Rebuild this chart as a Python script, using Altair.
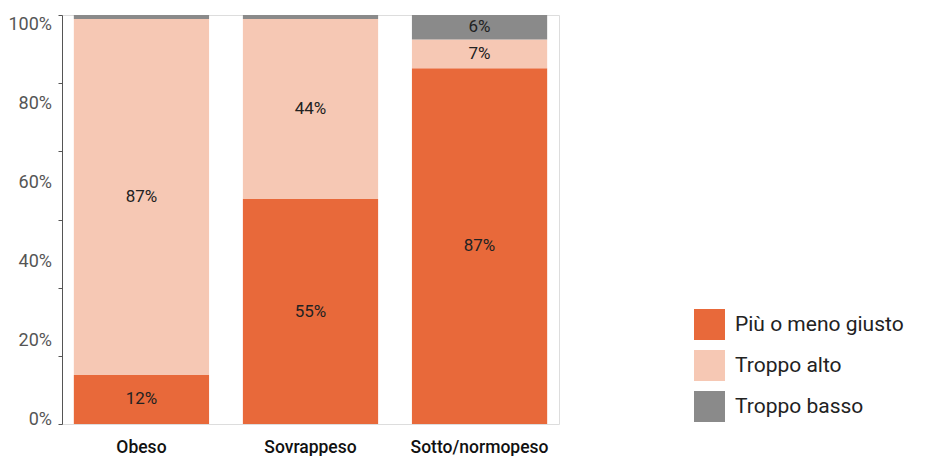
import altair as alt
import pandas as pd

categories = ["Obeso", "Sovrappeso", "Sotto/normopeso"]
series = ["Più o meno giusto", "Troppo alto", "Troppo basso"]
giusto = [12, 55, 87]
alto = [87, 44, 7]
basso = [1, 1, 6]
y_tick_labels = [0, 20, 40, 60, 80, 100]
colors = ["#E8693A", "#F6C8B4", "#8A8A8A"]

rows = []
for i, c in enumerate(categories):
    for j, (s, vals) in enumerate(zip(series, [giusto, alto, basso])):
        rows.append({"cat": c, "serie": s, "ord": j, "v": vals[i]})
df = pd.DataFrame(rows)
tick_df = pd.DataFrame({"t": y_tick_labels, "lab": [f"{t}%" for t in y_tick_labels]})

FONT = "Roboto"

base = alt.Chart(df).transform_stack(
    stack="v", groupby=["cat"], as_=["y0", "y1"],
    sort=[alt.SortField("ord", order="ascending")]
).transform_calculate(mid="(datum.y0 + datum.y1) / 2", lab="datum.v + '%'")

xscale = alt.Scale(paddingInner=0.2, paddingOuter=0.07)
xaxis = alt.Axis(domain=False, ticks=False, labelAngle=0, labelFontSize=17.5,
                 labelFontWeight=500, labelColor="#111", labelPadding=14,
                 labelFont=FONT)
xenc = alt.X("cat:N", sort=categories, title=None, scale=xscale, axis=xaxis)

yscale = alt.Scale(domain=[0, 100], nice=False)
sixths = [100 * k / 6 for k in range(7)]

bars = base.mark_bar().encode(
    x=xenc,
    y=alt.Y("y0:Q", scale=yscale, title=None,
            axis=alt.Axis(values=sixths, labels=False, grid=False, domainColor="#555",
                          tickColor="#555", tickSize=4, domainWidth=1)),
    y2="y1:Q",
    color=alt.Color("serie:N", scale=alt.Scale(domain=series, range=colors),
                    legend=alt.Legend(title=None, orient="none", legendX=632, legendY=294,
                                      symbolType="square", symbolSize=961, symbolStrokeWidth=0,
                                      symbolOpacity=1, labelFontSize=21, labelFont=FONT,
                                      labelColor="#222", rowPadding=10, labelOffset=10,
                                      labelLimit=400)),
    order=alt.Order("ord:Q"),
)

bar_text = base.transform_filter("datum.v >= 5").mark_text(
    fontSize=17, color="#222", font=FONT, baseline="middle"
).encode(
    x=alt.X("cat:N", sort=categories, title=None, scale=xscale, axis=xaxis),
    y=alt.Y("mid:Q", scale=yscale, axis=None),
    text="lab:N",
)

tick_text = alt.Chart(tick_df).mark_text(
    align="right", baseline="middle", fontSize=18, color="#555", font=FONT
).encode(
    x=alt.value(-10),
    y=alt.Y("t:Q", scale=alt.Scale(domain=[-1.0, 102.5], nice=False), axis=None),
    text="lab:N",
)

chart = alt.layer(bars, bar_text, tick_text).resolve_scale(y="independent").properties(
    width=497, height=409,
    padding={"left": 0, "top": 6, "right": 0, "bottom": 0},
).configure_view(stroke=None).configure_axisX(domain=False, ticks=False, grid=False).configure(font=FONT)

chart.save("out.html", embed_options={"renderer": "svg", "actions": False})
